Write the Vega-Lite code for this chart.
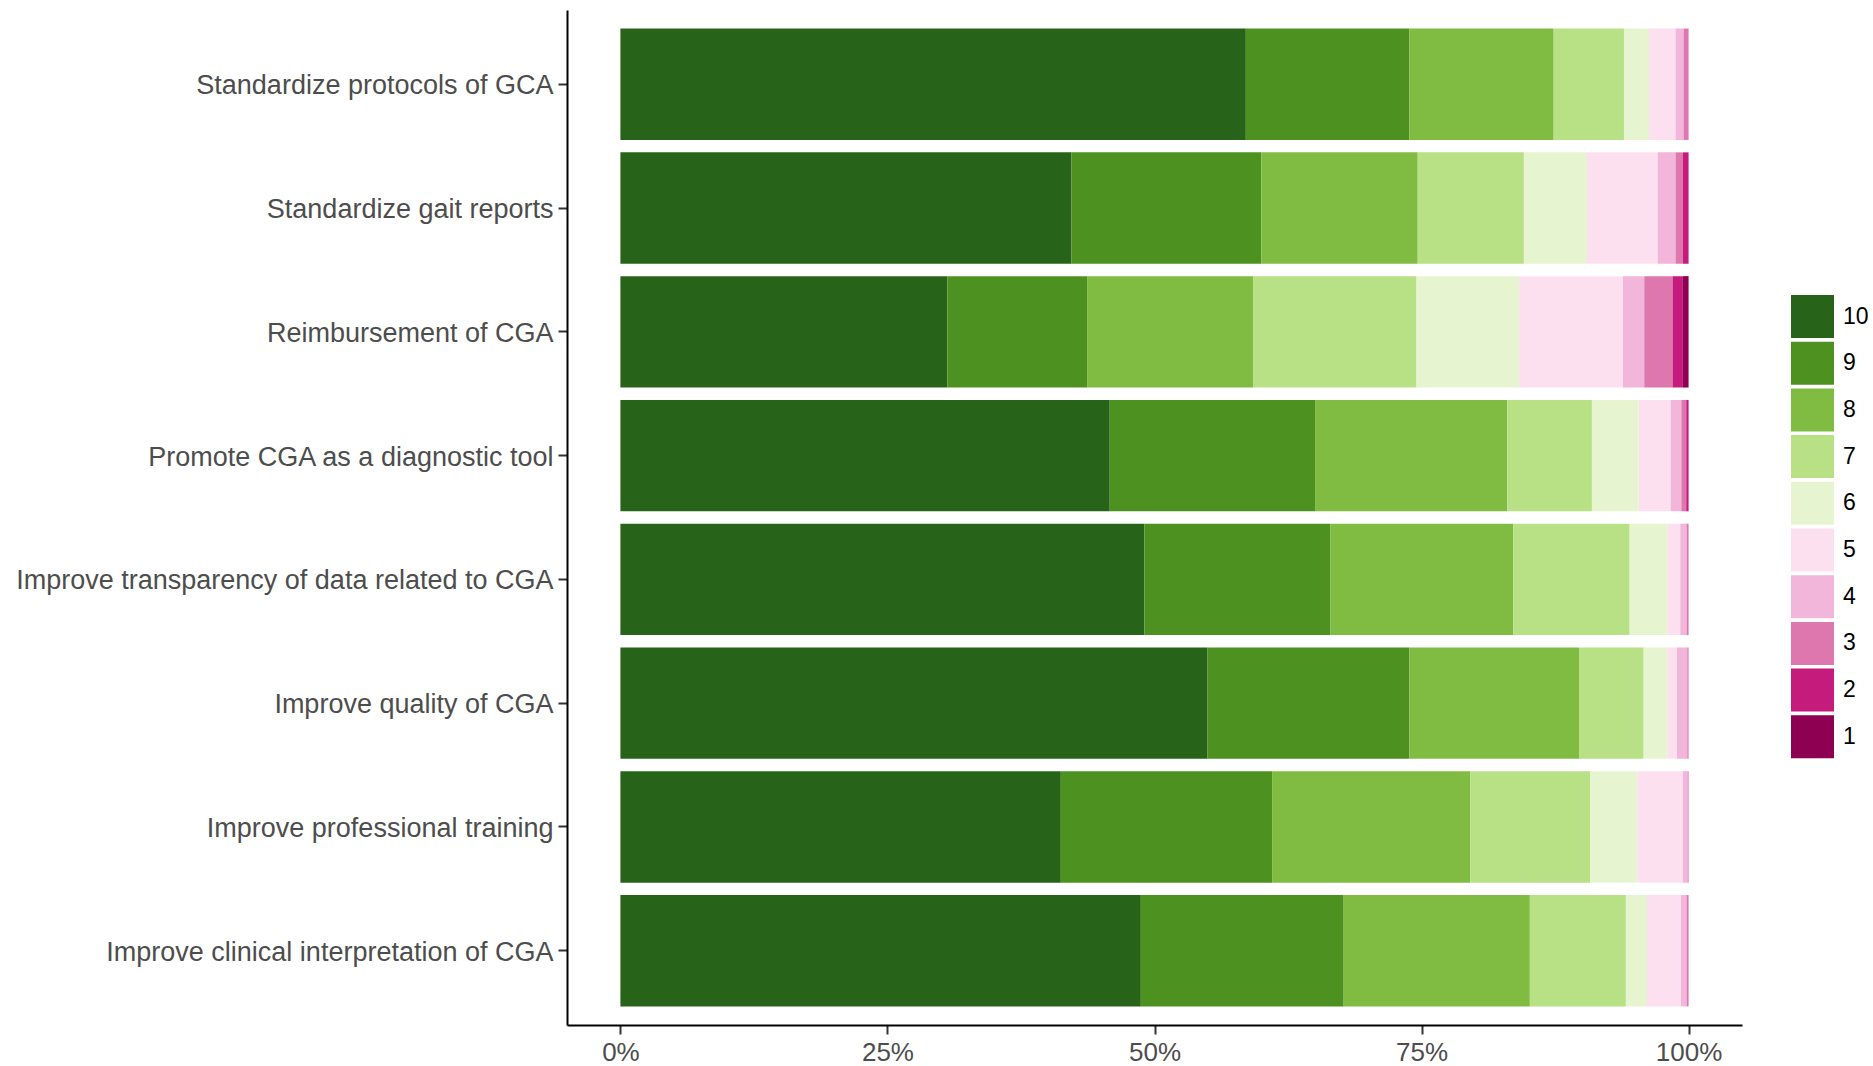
{
  "$schema": "https://vega.github.io/schema/vega-lite/v6.json",
  "width": 1175,
  "height": 1015,
  "autosize": {"type": "none"},
  "padding": {"left": 567, "top": 10, "right": 131, "bottom": 41},
  "background": "white",
  "config": {"view": {"stroke": null}, "font": "Liberation Sans"},
  "data": {"values": [
    {"item": "Standardize protocols of GCA", "score": 10, "pct": 58.55},
    {"item": "Standardize protocols of GCA", "score": 9, "pct": 15.30},
    {"item": "Standardize protocols of GCA", "score": 8, "pct": 13.52},
    {"item": "Standardize protocols of GCA", "score": 7, "pct": 6.58},
    {"item": "Standardize protocols of GCA", "score": 6, "pct": 2.34},
    {"item": "Standardize protocols of GCA", "score": 5, "pct": 2.49},
    {"item": "Standardize protocols of GCA", "score": 4, "pct": 0.75},
    {"item": "Standardize protocols of GCA", "score": 3, "pct": 0.47},
    {"item": "Standardize gait reports", "score": 10, "pct": 42.23},
    {"item": "Standardize gait reports", "score": 9, "pct": 17.77},
    {"item": "Standardize gait reports", "score": 8, "pct": 14.64},
    {"item": "Standardize gait reports", "score": 7, "pct": 9.94},
    {"item": "Standardize gait reports", "score": 6, "pct": 5.91},
    {"item": "Standardize gait reports", "score": 5, "pct": 6.61},
    {"item": "Standardize gait reports", "score": 4, "pct": 1.68},
    {"item": "Standardize gait reports", "score": 3, "pct": 0.69},
    {"item": "Standardize gait reports", "score": 2, "pct": 0.53},
    {"item": "Reimbursement of CGA", "score": 10, "pct": 30.61},
    {"item": "Reimbursement of CGA", "score": 9, "pct": 13.08},
    {"item": "Reimbursement of CGA", "score": 8, "pct": 15.53},
    {"item": "Reimbursement of CGA", "score": 7, "pct": 15.31},
    {"item": "Reimbursement of CGA", "score": 6, "pct": 9.60},
    {"item": "Reimbursement of CGA", "score": 5, "pct": 9.73},
    {"item": "Reimbursement of CGA", "score": 4, "pct": 1.99},
    {"item": "Reimbursement of CGA", "score": 3, "pct": 2.65},
    {"item": "Reimbursement of CGA", "score": 2, "pct": 0.97},
    {"item": "Reimbursement of CGA", "score": 1, "pct": 0.53},
    {"item": "Promote CGA as a diagnostic tool", "score": 10, "pct": 45.81},
    {"item": "Promote CGA as a diagnostic tool", "score": 9, "pct": 19.22},
    {"item": "Promote CGA as a diagnostic tool", "score": 8, "pct": 17.99},
    {"item": "Promote CGA as a diagnostic tool", "score": 7, "pct": 7.93},
    {"item": "Promote CGA as a diagnostic tool", "score": 6, "pct": 4.37},
    {"item": "Promote CGA as a diagnostic tool", "score": 5, "pct": 3.00},
    {"item": "Promote CGA as a diagnostic tool", "score": 4, "pct": 1.00},
    {"item": "Promote CGA as a diagnostic tool", "score": 3, "pct": 0.46},
    {"item": "Promote CGA as a diagnostic tool", "score": 2, "pct": 0.22},
    {"item": "Improve transparency of data related to CGA", "score": 10, "pct": 49.05},
    {"item": "Improve transparency of data related to CGA", "score": 9, "pct": 17.43},
    {"item": "Improve transparency of data related to CGA", "score": 8, "pct": 17.10},
    {"item": "Improve transparency of data related to CGA", "score": 7, "pct": 10.90},
    {"item": "Improve transparency of data related to CGA", "score": 6, "pct": 3.53},
    {"item": "Improve transparency of data related to CGA", "score": 5, "pct": 1.21},
    {"item": "Improve transparency of data related to CGA", "score": 4, "pct": 0.59},
    {"item": "Improve transparency of data related to CGA", "score": 3, "pct": 0.19},
    {"item": "Improve quality of CGA", "score": 10, "pct": 54.97},
    {"item": "Improve quality of CGA", "score": 9, "pct": 18.88},
    {"item": "Improve quality of CGA", "score": 8, "pct": 15.89},
    {"item": "Improve quality of CGA", "score": 7, "pct": 6.05},
    {"item": "Improve quality of CGA", "score": 6, "pct": 2.22},
    {"item": "Improve quality of CGA", "score": 5, "pct": 0.90},
    {"item": "Improve quality of CGA", "score": 4, "pct": 0.97},
    {"item": "Improve quality of CGA", "score": 3, "pct": 0.12},
    {"item": "Improve professional training", "score": 10, "pct": 41.23},
    {"item": "Improve professional training", "score": 9, "pct": 19.78},
    {"item": "Improve professional training", "score": 8, "pct": 18.54},
    {"item": "Improve professional training", "score": 7, "pct": 11.22},
    {"item": "Improve professional training", "score": 6, "pct": 4.43},
    {"item": "Improve professional training", "score": 5, "pct": 4.27},
    {"item": "Improve professional training", "score": 4, "pct": 0.44},
    {"item": "Improve professional training", "score": 3, "pct": 0.09},
    {"item": "Improve clinical interpretation of CGA", "score": 10, "pct": 48.72},
    {"item": "Improve clinical interpretation of CGA", "score": 9, "pct": 18.99},
    {"item": "Improve clinical interpretation of CGA", "score": 8, "pct": 17.43},
    {"item": "Improve clinical interpretation of CGA", "score": 7, "pct": 8.99},
    {"item": "Improve clinical interpretation of CGA", "score": 6, "pct": 1.97},
    {"item": "Improve clinical interpretation of CGA", "score": 5, "pct": 3.18},
    {"item": "Improve clinical interpretation of CGA", "score": 4, "pct": 0.53},
    {"item": "Improve clinical interpretation of CGA", "score": 3, "pct": 0.19}
  ]},
  "mark": {"type": "bar", "strokeWidth": 0},
  "encoding": {
    "y": {
      "field": "item", "type": "nominal",
      "sort": ["Standardize protocols of GCA", "Standardize gait reports", "Reimbursement of CGA", "Promote CGA as a diagnostic tool", "Improve transparency of data related to CGA", "Improve quality of CGA", "Improve professional training", "Improve clinical interpretation of CGA"],
      "scale": {"paddingInner": 0.1, "paddingOuter": 0.15},
      "axis": {"title": null, "domainColor": "black", "domainWidth": 2, "tickColor": "#333333", "tickWidth": 2, "tickSize": 9, "labelPadding": 5, "labelFontSize": 27, "labelColor": "#4d4d4d", "labelFont": "Liberation Sans", "labelLimit": 1000, "labelBaseline": "middle", "labelOffset": 2}
    },
    "x": {
      "field": "pct", "type": "quantitative", "stack": "normalize",
      "scale": {"domain": [-0.05, 1.05], "nice": false, "zero": false},
      "axis": {"title": null, "values": [0, 0.25, 0.5, 0.75, 1], "format": ".0%", "grid": false, "domainColor": "black", "domainWidth": 2, "tickColor": "#333333", "tickWidth": 2, "tickSize": 9, "labelPadding": 5, "labelFontSize": 26, "labelColor": "#4d4d4d", "labelFont": "Liberation Sans", "labelFlush": false}
    },
    "color": {
      "field": "score", "type": "nominal",
      "scale": {"domain": [10, 9, 8, 7, 6, 5, 4, 3, 2, 1], "range": ["#276419", "#4d9221", "#7fbc41", "#b8e186", "#e6f5d0", "#fde0ef", "#f1b6da", "#de77ae", "#c51b7d", "#8e0152"]},
      "legend": {"title": null, "orient": "none", "legendX": 1224, "legendY": 285, "symbolType": "square", "symbolSize": 1849, "symbolStrokeWidth": 0, "symbolOpacity": 1, "rowPadding": 3.7, "labelOffset": 9, "labelFontSize": 23, "labelColor": "black", "labelFont": "Liberation Sans"}
    },
    "order": {"field": "score", "type": "quantitative", "sort": "descending"}
  }
}
